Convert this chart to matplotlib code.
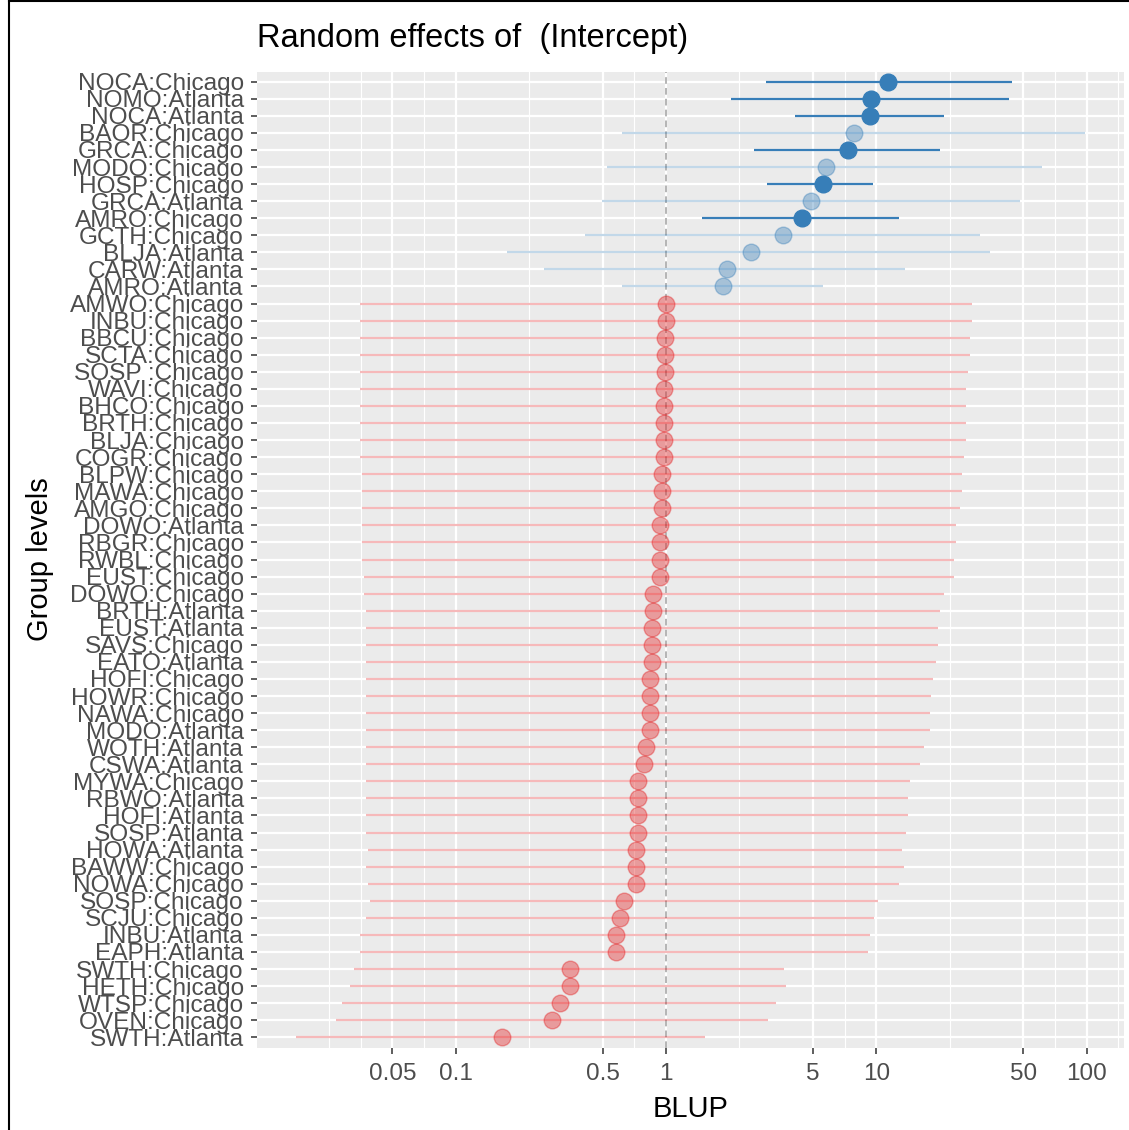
# %%
import numpy as np
import matplotlib.pyplot as plt
from matplotlib.lines import Line2D
from matplotlib.ticker import NullFormatter

plt.rcParams['font.family'] = ['Liberation Sans', 'DejaVu Sans']

# %%
# valores: BLUP e intervalo de confianca por nivel do grupo
labels = ["NOCA:Chicago", "NOMO:Atlanta", "NOCA:Atlanta", "BAOR:Chicago", "GRCA:Chicago",
          "MODO:Chicago", "HOSP:Chicago", "GRCA:Atlanta", "AMRO:Chicago", "GCTH:Chicago",
          "BLJA:Atlanta", "CARW:Atlanta", "AMRO:Atlanta", "AMWO:Chicago", "INBU:Chicago",
          "BBCU:Chicago", "SCTA:Chicago", "SOSP :Chicago", "WAVI:Chicago", "BHCO:Chicago",
          "BRTH:Chicago", "BLJA:Chicago", "COGR:Chicago", "BLPW:Chicago", "MAWA:Chicago",
          "AMGO:Chicago", "DOWO:Atlanta", "RBGR:Chicago", "RWBL:Chicago", "EUST:Chicago",
          "DOWO:Chicago", "BRTH:Atlanta", "EUST:Atlanta", "SAVS:Chicago", "EATO:Atlanta",
          "HOFI:Chicago", "HOWR:Chicago", "NAWA:Chicago", "MODO:Atlanta", "WOTH:Atlanta",
          "CSWA:Atlanta", "MYWA:Chicago", "RBWO:Atlanta", "HOFI:Atlanta", "SOSP:Atlanta",
          "HOWA:Atlanta", "BAWW:Chicago", "NOWA:Chicago", "SOSP:Chicago", "SCJU:Chicago",
          "INBU:Atlanta", "EAPH:Atlanta", "SWTH:Chicago", "HETH:Chicago", "WTSP:Chicago",
          "OVEN:Chicago", "SWTH:Atlanta"]

blup = [11.4, 9.42, 9.35, 7.87, 7.37, 5.80, 5.61, 4.87, 4.46, 3.59,
        2.53, 1.95, 1.86, 0.998, 0.998, 0.995, 0.995, 0.99, 0.978, 0.978,
        0.978, 0.978, 0.978, 0.957, 0.957, 0.957, 0.937, 0.937, 0.937, 0.937,
        0.871, 0.871, 0.858, 0.858, 0.855, 0.840, 0.840, 0.840, 0.840, 0.804,
        0.787, 0.737, 0.737, 0.737, 0.737, 0.721, 0.721, 0.721, 0.633, 0.605,
        0.578, 0.578, 0.351, 0.351, 0.315, 0.288, 0.167]

ci_low = [2.98, 2.05, 4.13, 0.615, 2.61, 0.525, 3.04, 0.497, 1.48, 0.413,
          0.176, 0.264, 0.615, 0.0351, 0.0351, 0.0351, 0.0351, 0.0351, 0.0351, 0.0351,
          0.0351, 0.0351, 0.0351, 0.0358, 0.0358, 0.0358, 0.0358, 0.0358, 0.0358, 0.0366,
          0.0366, 0.0375, 0.0375, 0.0375, 0.0375, 0.0375, 0.0375, 0.0375, 0.0375, 0.0375,
          0.0375, 0.0375, 0.0375, 0.0375, 0.0375, 0.0383, 0.0375, 0.0383, 0.0391, 0.0375,
          0.0351, 0.0351, 0.0329, 0.0315, 0.0288, 0.0270, 0.0175]

ci_high = [44.1, 42.7, 21.0, 97.9, 20.1, 61.2, 9.68, 48.1, 12.8, 31.1,
           34.7, 13.7, 5.61, 28.4, 28.4, 27.8, 27.8, 27.2, 26.6, 26.6,
           26.6, 26.6, 26.1, 25.5, 25.5, 24.9, 23.9, 23.9, 23.4, 23.4,
           21.0, 20.0, 19.6, 19.6, 19.2, 18.7, 18.3, 18.0, 18.0, 16.8,
           16.1, 14.4, 14.2, 14.2, 13.8, 13.2, 13.5, 12.9, 10.2, 9.75,
           9.33, 9.14, 3.64, 3.73, 3.35, 3.07, 1.53]

major_ticks = [0.05, 0.1, 0.5, 1, 5, 10, 50, 100]
major_labels = ["0.05", "0.1", "0.5", "1", "5", "10", "50", "100"]

# %%
blup = np.array(blup)
ci_low = np.array(ci_low)
ci_high = np.array(ci_high)
n = len(labels)
y = np.arange(n)[::-1]

blue = '#377EB8'
red = '#E41A1C'

W, H = 1129, 1130
fig = plt.figure(figsize=(W / 100, H / 100), dpi=100)
ax = fig.add_axes([257 / W, 1 - 1047.5 / H, (1124 - 257) / W, (1047.5 - 71.5) / H])
ax.set_facecolor('#EBEBEB')
ax.set_xscale('log')

# limites com 5% de expansao (em escala log), igual ao ggplot
llo, lhi = np.log10(ci_low.min()), np.log10(ci_high.max())
pad = 0.05 * (lhi - llo)
xmin, xmax = 10 ** (llo - pad), 10 ** (lhi + pad)

# grade: maiores nos ticks, menores no meio (em log), estendendo um passo nas pontas
lm = np.log10(major_ticks)
ext = np.concatenate([[lm[0] - (lm[1] - lm[0])], lm, [lm[-1] + (lm[-1] - lm[-2])]])
minor = np.concatenate([ext[:1], (ext[:-1] + ext[1:]) / 2, ext[-1:]])
minor = [10 ** m for m in minor
         if not np.any(np.isclose(m, lm)) and xmin <= 10 ** m <= xmax]

ax.set_xticks(major_ticks)
ax.set_xticklabels(major_labels)
ax.set_xticks(minor, minor=True)
ax.xaxis.set_minor_formatter(NullFormatter())
ax.set_yticks(y)
ax.set_yticklabels(labels)

# set_xticks mexe nos limites, entao fixa depois
ax.set_xlim(xmin, xmax)
ax.set_ylim(-0.6, n - 1 + 0.6)

ax.grid(which='major', color='white', lw=1.6, zorder=0)
ax.grid(which='minor', axis='x', color='white', lw=0.8, zorder=0)
ax.set_axisbelow(True)

ax.axvline(1, color='#A8A8A8', ls=(0, (4, 2.5)), lw=1.2, zorder=1.5)

# %%
# cor por sinal do efeito, transparencia quando o IC cruza 1
sig = (ci_low > 1) | (ci_high < 1)
for i in range(n):
    col = blue if blup[i] > 1 else red
    a_line = 1.0 if sig[i] else 0.3
    a_pt = 1.0 if sig[i] else 0.38
    ax.hlines(y[i], ci_low[i], ci_high[i], color=col, alpha=a_line, lw=1.6, zorder=2)
    ax.plot(blup[i], y[i], 'o', color=col, alpha=a_pt, ms=12, mew=1.0, zorder=3)

for s in ax.spines.values():
    s.set_visible(False)

ax.tick_params(which='major', length=4.5, width=1.1, color='#333333',
               labelcolor='#4D4D4D')
ax.tick_params(axis='y', labelsize=17.6, pad=5)
ax.tick_params(axis='x', labelsize=17.5, pad=7)
ax.tick_params(which='minor', length=0)

fig.text(257 / W, 1 - 39 / H, "Random effects of  (Intercept)", fontsize=23.5,
         ha='left', va='center', color='black')
fig.text(691 / W, 1 - 1109 / H, "BLUP", fontsize=21, ha='center', va='center')
fig.text(40 / W, 1 - 559 / H, "Group levels", fontsize=21, ha='center', va='center',
         rotation=90)

# moldura da captura de tela
fig.add_artist(Line2D([9 / W, 9 / W], [0, 1], color='black', lw=1.5, transform=fig.transFigure))
fig.add_artist(Line2D([9 / W, 1], [1 - 1 / H, 1 - 1 / H], color='black', lw=1.5,
                      transform=fig.transFigure))

fig.savefig('out.png', dpi=100)
